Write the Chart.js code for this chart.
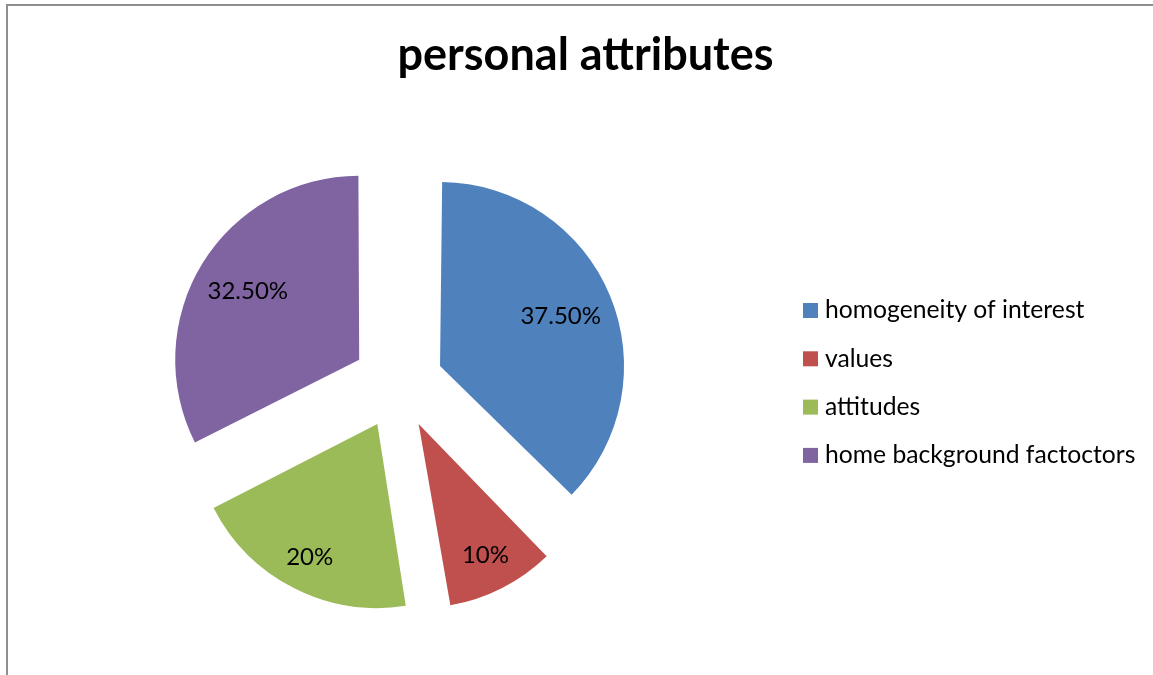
<!DOCTYPE html>
<html>
<head>
<meta charset="utf-8">
<title>personal attributes</title>
<script src="https://cdn.jsdelivr.net/npm/chart.js@4.4.1/dist/chart.umd.min.js"></script>
<style>
  html, body { margin: 0; padding: 0; background: #fff; }
  #wrap { position: relative; width: 1153px; height: 675px; }
</style>
</head>
<body>
<div id="wrap"><canvas id="pieChart"></canvas></div>
<script>
'use strict';

// chart data
const categories = ['homogeneity of interest', 'values', 'attitudes', 'home background factoctors'];
const shares = [37.5, 10, 20, 32.5];

const FONT = "Lato, 'Liberation Sans', sans-serif";

function pctLabel(v) {
    return Number.isInteger(v) ? v + '%' : v.toFixed(2) + '%';
}

// gray frame at top / left like the original sheet chart
const framePlugin = {
    id: 'frame',
    beforeDraw(chart) {
        const ctx = chart.ctx;
        ctx.save();
        ctx.fillStyle = '#8f8f8f';
        ctx.fillRect(6, 4, chart.width, 2);
        ctx.fillRect(6, 4, 2, chart.height);
        ctx.restore();
    }
};

// title centred on the whole canvas (the built-in one centres on the padded box)
const pageTitle = {
    id: 'pageTitle',
    afterDraw(chart, args, opts) {
        const ctx = chart.ctx;
        ctx.save();
        ctx.font = 'bold ' + opts.size + 'px ' + FONT;
        ctx.fillStyle = '#000';
        ctx.textAlign = 'center';
        ctx.textBaseline = 'alphabetic';
        ctx.fillText(opts.text, opts.x, opts.baseline);
        ctx.restore();
    }
};

// arc.offset also grows the radius a bit; take that back so every slice keeps the same radius
const explodeFix = {
    id: 'explodeFix',
    afterDatasetUpdate(chart, args) {
        args.meta.data.forEach(function(arc) {
            const shift = (arc.options.offset || 0) / 4;
            const fix = 1 - Math.sin(Math.min(Math.PI, arc.circumference));
            arc.outerRadius -= shift * fix;
        });
    }
};

// value labels inside the slices
const sliceLabels = {
    id: 'sliceLabels',
    afterDatasetsDraw(chart, args, opts) {
        const ctx = chart.ctx;
        const meta = chart.getDatasetMeta(0);
        const values = chart.data.datasets[0].data;
        ctx.save();
        ctx.font = opts.size + 'px ' + FONT;
        ctx.fillStyle = '#000';
        ctx.textAlign = 'center';
        ctx.textBaseline = 'middle';
        meta.data.forEach(function(arc, i) {
            const half = (arc.startAngle + arc.endAngle) / 2;
            const shift = (arc.options.offset || 0) / 4;
            const fix = 1 - Math.sin(Math.min(Math.PI, arc.circumference));
            const r = arc.outerRadius + shift * fix;
            const d = shift + opts.fractions[i] * r;
            ctx.fillText(pctLabel(values[i]), arc.x + Math.cos(half) * d, arc.y + Math.sin(half) * d);
        });
        ctx.restore();
    }
};

// legend on the right, square markers
const sideLegend = {
    id: 'sideLegend',
    afterDraw(chart, args, opts) {
        const ctx = chart.ctx;
        const colors = chart.data.datasets[0].backgroundColor;
        ctx.save();
        ctx.font = opts.size + 'px ' + FONT;
        ctx.textBaseline = 'middle';
        ctx.textAlign = 'left';
        chart.data.labels.forEach(function(label, i) {
            const y = opts.y + i * opts.rowGap;
            ctx.fillStyle = colors[i];
            ctx.fillRect(opts.x, y - opts.box / 2, opts.box, opts.box);
            ctx.fillStyle = '#000';
            ctx.fillText(label, opts.x + opts.box + opts.textGap, y);
        });
        ctx.restore();
    }
};

const ctx = document.getElementById('pieChart').getContext('2d');

new Chart(ctx, {
    type: 'pie',
    data: {
        labels: categories,
        datasets: [{
            data: shares,
            backgroundColor: ['#4F81BD', '#C0504D', '#9BBB59', '#8064A2'],
            borderWidth: 0,
            offset: 182
        }]
    },
    options: {
        responsive: true,
        maintainAspectRatio: false,
        animation: false,
        radius: 184,
        layout: {
            padding: { left: 0, right: 357, top: 99, bottom: 7 }
        },
        plugins: {
            title: { display: false },
            legend: { display: false },
            tooltip: { enabled: false },
            pageTitle: { text: 'personal attributes', size: 45, x: 585.5, baseline: 70 },
            sliceLabels: { size: 24, fractions: [0.71, 0.80, 0.81, 0.71] },
            sideLegend: { x: 803, y: 310.5, rowGap: 48.3, box: 15, textGap: 7, size: 24.7 }
        }
    },
    plugins: [framePlugin, explodeFix, pageTitle, sliceLabels, sideLegend]
});
</script>
</body>
</html>
